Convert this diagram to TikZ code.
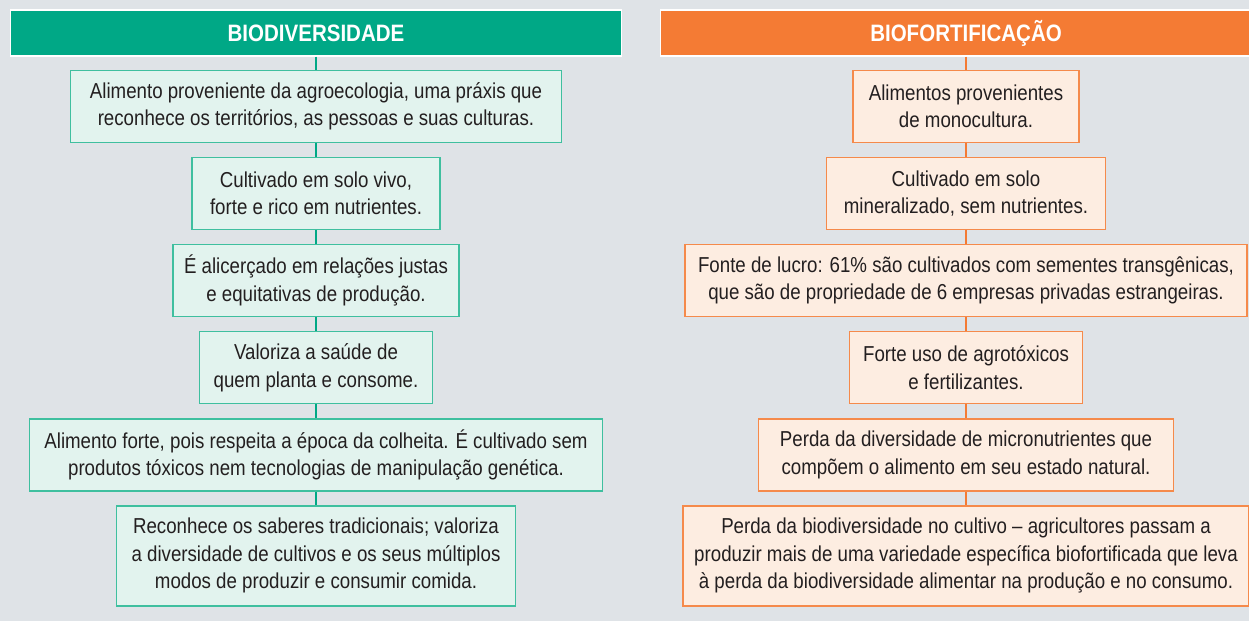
\documentclass[tikz,border=0pt]{standalone}
\usepackage{fontspec}
\setmainfont{Liberation Sans}[FakeStretch=0.865]
\usetikzlibrary{positioning}
\definecolor{bgGray}{HTML}{DFE3E7}
\definecolor{bioGreen}{HTML}{00A886}
\definecolor{bioGreenLine}{HTML}{3FBF9F}
\definecolor{bioGreenFill}{HTML}{E2F3EE}
\definecolor{fortOrange}{HTML}{F47B34}
\definecolor{fortOrangeLine}{HTML}{F58A4B}
\definecolor{fortOrangeFill}{HTML}{FDEDE1}
\definecolor{inkText}{HTML}{231F20}
\tikzset{
  banner/.style={draw=white, line width=0.7pt, minimum width=12.22cm, minimum height=0.92cm, inner sep=0pt, text=white, font=\fontsize{13.5}{15}\selectfont\bfseries},
  card/.style={line width=0.9pt, inner sep=0pt, minimum height=1.44cm, align=center, text=inkText, font=\fontsize{12.3}{15.6}\selectfont},
  greencard/.style={card, draw=bioGreenLine, fill=bioGreenFill},
  orangecard/.style={card, draw=fortOrangeLine, fill=fortOrangeFill},
  greenlink/.style={draw=bioGreen, line width=1.4pt},
  orangelink/.style={draw=fortOrange, line width=1.4pt},
}

\begin{document}
\begin{tikzpicture}
\useasboundingbox (0,0) rectangle (24.98,12.42);
\clip (0,0) rectangle (24.98,12.42);
\fill[bgGray] (0,0) rectangle (24.98,12.42);

% biodiversidade
\node[banner, fill=bioGreen] (bioHead) at (6.32,11.76) {BIODIVERSIDADE};
\node[greencard, minimum width=9.82cm, below=0.26cm of bioHead] (bio1) {Alimento proveniente da agroecologia, uma práxis que\\reconhece os territórios, as pessoas e suas culturas.};
\node[greencard, minimum width=4.96cm, below=0.27cm of bio1] (bio2) {Cultivado em solo vivo,\\forte e rico em nutrientes.};
\node[greencard, minimum width=5.72cm, below=0.27cm of bio2] (bio3) {É alicerçado em relações justas\\e equitativas de produção.};
\node[greencard, minimum width=4.66cm, below=0.27cm of bio3] (bio4) {Valoriza a saúde de\\quem planta e consome.};
\node[greencard, minimum width=11.46cm, below=0.27cm of bio4] (bio5) {Alimento forte, pois respeita a época da colheita. É cultivado sem\\produtos tóxicos nem tecnologias de manipulação genética.};
\node[greencard, minimum width=7.98cm, minimum height=2cm, below=0.27cm of bio5] (bio6) {Reconhece os saberes tradicionais; valoriza\\a diversidade de cultivos e os seus múltiplos\\modos de produzir e consumir comida.};
\draw[greenlink] (bioHead.south) -- (bio1.north);
\draw[greenlink] (bio1.south) -- (bio2.north);
\draw[greenlink] (bio2.south) -- (bio3.north);
\draw[greenlink] (bio3.south) -- (bio4.north);
\draw[greenlink] (bio4.south) -- (bio5.north);
\draw[greenlink] (bio5.south) -- (bio6.north);

% biofortificacao
\node[banner, fill=fortOrange] (fortHead) at (19.32,11.76) {BIOFORTIFICAÇÃO};
\node[orangecard, minimum width=4.52cm, below=0.26cm of fortHead] (fort1) {Alimentos provenientes\\de monocultura.};
\node[orangecard, minimum width=5.58cm, below=0.27cm of fort1] (fort2) {Cultivado em solo\\mineralizado, sem nutrientes.};
\node[orangecard, minimum width=11.24cm, below=0.27cm of fort2] (fort3) {Fonte de lucro: 61\% são cultivados com sementes transgênicas,\\que são de propriedade de 6 empresas privadas estrangeiras.};
\node[orangecard, minimum width=4.66cm, below=0.27cm of fort3] (fort4) {Forte uso de agrotóxicos\\e fertilizantes.};
\node[orangecard, minimum width=8.3cm, below=0.27cm of fort4] (fort5) {Perda da diversidade de micronutrientes que\\compõem o alimento em seu estado natural.};
\node[orangecard, minimum width=11.32cm, minimum height=2cm, below=0.27cm of fort5] (fort6) {Perda da biodiversidade no cultivo – agricultores passam a\\produzir mais de uma variedade específica biofortificada que leva\\à perda da biodiversidade alimentar na produção e no consumo.};
\draw[orangelink] (fortHead.south) -- (fort1.north);
\draw[orangelink] (fort1.south) -- (fort2.north);
\draw[orangelink] (fort2.south) -- (fort3.north);
\draw[orangelink] (fort3.south) -- (fort4.north);
\draw[orangelink] (fort4.south) -- (fort5.north);
\draw[orangelink] (fort5.south) -- (fort6.north);
\end{tikzpicture}
\end{document}
